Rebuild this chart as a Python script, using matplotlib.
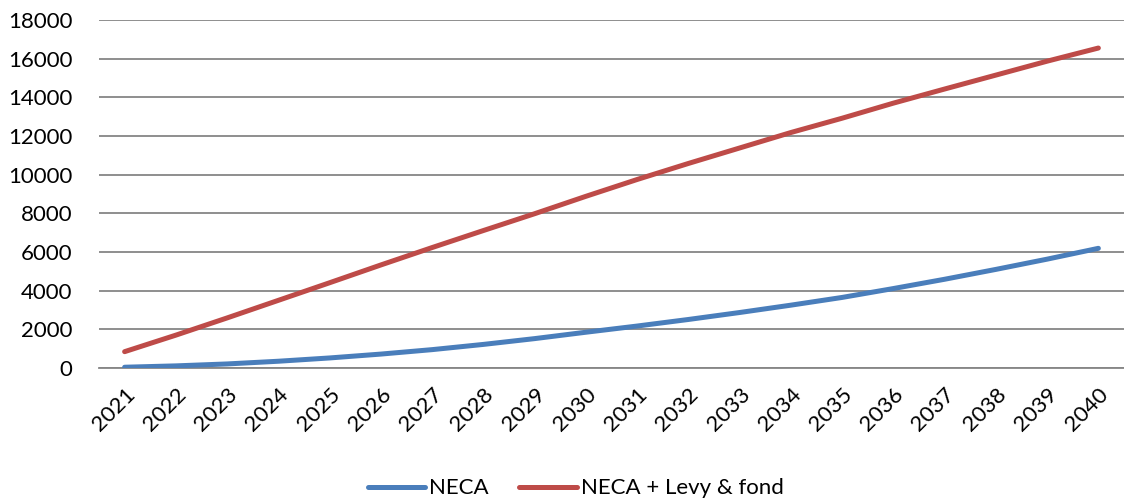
import matplotlib
matplotlib.use("Agg")
import matplotlib.pyplot as plt

# Projection 2021-2040
years = [str(y) for y in range(2021, 2041)]
neca = [40, 110, 210, 350, 520, 720, 950, 1220, 1520, 1850,
        2170, 2510, 2870, 3250, 3650, 4110, 4590, 5100, 5630, 6190]
neca_levy_fond = [845, 1700, 2590, 3500, 4410, 5330, 6230, 7110, 7980, 8880,
                  9750, 10580, 11380, 12180, 12920, 13700, 14430, 15150, 15870, 16550]
series_labels = ["NECA", "NECA + Levy & fond"]
y_ticks = list(range(0, 18001, 2000))

plt.rcParams["font.family"] = ["Lato", "DejaVu Sans"]

fig = plt.figure(figsize=(11.24, 5.01), dpi=100)
ax = fig.add_axes([99 / 1124, 1 - 368 / 501, 1 - 99 / 1124, (368 - 20) / 501])

x = list(range(len(years)))
ax.plot(x, neca, color="#4A7EBB", lw=3.6, solid_capstyle="round",
        solid_joinstyle="round", label=series_labels[0], zorder=3)
ax.plot(x, neca_levy_fond, color="#BE4B48", lw=3.6, solid_capstyle="round",
        solid_joinstyle="round", label=series_labels[1], zorder=3)

ax.set_xlim(-0.5, len(years) - 0.5)
ax.set_ylim(0, 18000)
ax.set_yticks(y_ticks)
ax.set_yticklabels([str(v) for v in y_ticks], fontsize=16)
ax.set_xticks(x)
ax.set_xticklabels(years, fontsize=16, rotation=45, ha="right",
                   va="top", rotation_mode="anchor")

ax.grid(axis="y", color="#868686", lw=1.3, zorder=0)
ax.set_axisbelow(True)
for side in ["left", "right", "top"]:
    ax.spines[side].set_visible(False)
ax.spines["bottom"].set_color("#868686")
ax.spines["bottom"].set_linewidth(1.3)
ax.tick_params(axis="y", length=0, pad=19)
ax.tick_params(axis="x", length=0, pad=12)

fig.legend(loc="center", bbox_to_anchor=(0.512, 0.025), ncol=2, frameon=False,
           fontsize=16, handlelength=2.6, handletextpad=0.15, columnspacing=1.4)

fig.savefig("out.png", dpi=100)
